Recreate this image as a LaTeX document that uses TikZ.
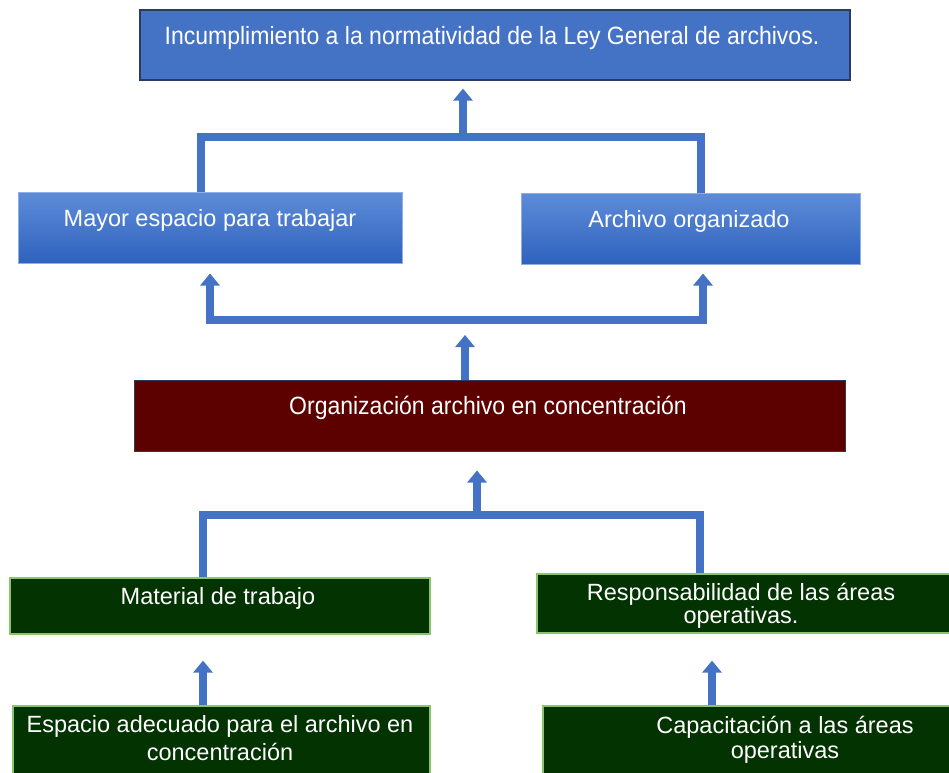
\documentclass[tikz,border=0pt]{standalone}
\usepackage{fontspec}
\setmainfont{Liberation Sans}
\newfontfamily\narrowfont[FakeStretch=0.92]{Liberation Sans}
\usetikzlibrary{arrows.meta,calc}
\definecolor{cblue}{HTML}{4472C4}
\definecolor{gtop}{HTML}{5E8CD8}
\definecolor{gbot}{HTML}{2E62BE}
\definecolor{gborder}{HTML}{8EAEE4}
\definecolor{navy}{HTML}{2B3A5E}
\definecolor{maroon}{HTML}{5C0000}
\definecolor{dgreen}{HTML}{023300}
\definecolor{lgreen}{HTML}{8CC46C}
\tikzset{
  flatbox/.style={draw=navy, line width=1.2pt, fill=cblue, minimum width=#1, inner sep=0pt},
  gradbox/.style={draw=gborder, line width=1pt, top color=gtop, bottom color=gbot, inner sep=0pt},
  orgbox/.style={draw=navy, line width=1pt, fill=maroon, inner sep=0pt},
  greenbox/.style={draw=lgreen, line width=1.2pt, fill=dgreen, inner sep=0pt},
  txt/.style={text=white, font=\fontsize{23.5}{27}\selectfont, inner sep=0pt, align=center},
  ntxt/.style={text=white, font=\narrowfont\fontsize{25}{29}\selectfont, inner sep=0pt},
  conn/.style={draw=cblue, line width=7.5pt, line join=miter, line cap=butt},
  arr/.style={conn, -{Triangle[width=19pt,length=12pt]}},
}
\begin{document}
\begin{tikzpicture}[x=1pt,y=-1pt]
\useasboundingbox (0,0) rectangle (949,772);
% boxes
\node[flatbox=710pt, minimum height=70pt] (top) at (495,45) {};
\node[gradbox, minimum width=384pt, minimum height=71pt] (mayor) at (210,227.5) {};
\node[gradbox, minimum width=339pt, minimum height=71pt] (archivo) at (690.5,228.5) {};
\node[orgbox, minimum width=711pt, minimum height=71pt] (org) at (489.5,415.5) {};
\node[greenbox, minimum width=420pt, minimum height=56pt] (material) at (220,606) {};
\node[greenbox, minimum width=415pt, minimum height=59pt] (resp) at (744.5,603.5) {};
\node[greenbox, minimum width=417pt, minimum height=74pt] (espacio) at (221.5,743) {};
\node[greenbox, minimum width=412pt, minimum height=74pt] (capac) at (749,743) {};
% texts
\node[ntxt] (ttop) at (492,38) {Incumplimiento a la normatividad de la Ley General de archivos.};
\node[txt] (tmayor) at (210,220) {Mayor espacio para trabajar};
\node[txt] (tarchivo) at (689,221) {Archivo organizado};
\node[ntxt] (torg) at (488,408) {Organización archivo en concentración};
\node[txt] (tmaterial) at (218,598) {Material de trabajo};
\node[txt] (tresp1) at (741,594) {Responsabilidad de las áreas};
\node[txt] (tresp2) at (741,617) {operativas.};
\node[txt] (tesp1) at (220,726) {Espacio adecuado para el archivo en};
\node[txt] (tesp2) at (220,752) {concentración};
\node[txt] (tcap1) at (785,727) {Capacitación a las áreas};
\node[txt] (tcap2) at (785,752) {operativas};
% junctions
\coordinate (j1) at (463,137);
\coordinate (j2) at (465,320);
\coordinate (j3) at (477,515);
% top tree
\draw[conn] ([xshift=-9pt]mayor.north) |- (j1) -| ([xshift=10.5pt]archivo.north);
\draw[arr, shorten >=8pt] (j1) -- (j1 |- top.south);
% middle tree
\draw[arr, shorten >=10pt] (j2) -| (mayor.south);
\draw[arr, shorten >=9pt] (j2) -| ([xshift=12.5pt]archivo.south);
\draw[arr, shorten >=15pt] (j2 |- org.north) -- (j2);
% lower tree
\draw[conn] ([xshift=-17pt]material.north) |- (j3) -| ([xshift=-44.5pt]resp.north);
\draw[arr, shorten >=19pt] (j3) -- (j3 |- org.south);
% bottom arrows
\draw[arr, shorten >=26pt] ([xshift=-18.5pt]espacio.north) -- ([xshift=-17pt]material.south);
\draw[arr, shorten >=27pt] ([xshift=-37pt]capac.north) -- ([xshift=-32.5pt]resp.south);
\end{tikzpicture}
\end{document}
